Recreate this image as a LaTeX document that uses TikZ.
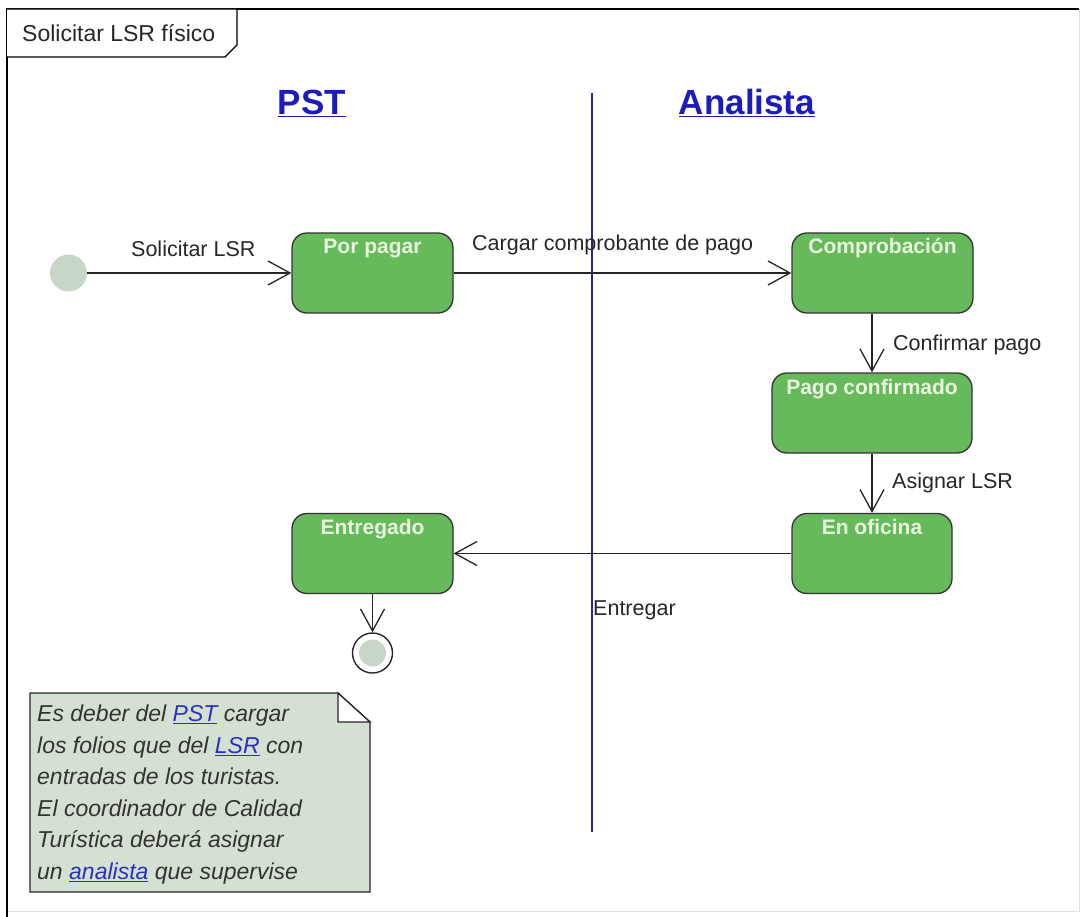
\documentclass[tikz,border=0pt]{standalone}
\usepackage{fontspec}
\setmainfont{Liberation Sans}
\usetikzlibrary{arrows.meta}
\definecolor{stfill}{RGB}{103,186,92}
\definecolor{sttext}{RGB}{232,246,222}
\definecolor{initfill}{RGB}{200,214,200}
\definecolor{notefill}{RGB}{212,224,210}
\definecolor{hdrblue}{RGB}{28,28,190}
\definecolor{linkblue}{RGB}{40,50,190}
\definecolor{lanecol}{RGB}{40,40,125}
\newcommand{\lnk}[1]{\textcolor{linkblue}{\underline{#1}}}
\tikzset{
  statebox/.style={draw=black!80, line width=1.3pt, fill=stfill, rounded corners=15pt,
    text=sttext, font=\bfseries\fontsize{21}{24}\selectfont,
    inner xsep=4pt, inner ysep=5pt, text height=16pt, text depth=54pt},
  flow/.style={draw=black!85, line width=1.4pt, -{Straight Barb[length=22pt,width=24pt,line width=1.3pt]}},
  lbl/.style={font=\fontsize{21.5}{24}\selectfont, text=black!85, inner sep=0pt},
  hdr/.style={font=\bfseries\fontsize{35}{40}\selectfont, text=hdrblue, inner sep=0pt},
}
\begin{document}
\begin{tikzpicture}[x=1pt,y=-1pt]
\useasboundingbox (0,0) rectangle (1081,917);
% frame
\draw[black!12, line width=1pt] (1079,9) -- (1079,911) -- (7,911);
\draw[black, line width=1.6pt] (1079,9) -- (7,9) -- (7,917);
% tab
\draw[black, line width=1.3pt, fill=white] (7,9) -- (237,9) -- (237,45) -- (225,57) -- (7,57);
\node[lbl, font=\fontsize{23}{26}\selectfont, anchor=west] (title) at (22,33) {Solicitar LSR físico};
% headers
\node[hdr] (pst) at (312,103) {\underline{PST}};
\node[hdr] (ana) at (747,103) {\underline{Analista}};
% lane divider
\coordinate (lt) at (592,93);
\coordinate (lb) at (592,832);
\draw[lanecol, line width=1.6pt] (lt) -- (lb);
% initial and final
\node[circle, fill=initfill, minimum size=37pt, inner sep=0pt] (init) at (68.5,273) {};
\node[circle, draw=black!85, line width=1.4pt, fill=white, minimum size=40pt, inner sep=0pt] (fin) at (372.5,653) {};
\node[circle, fill=initfill, minimum size=27pt, inner sep=0pt] (finin) at (fin) {};
% states
\node[statebox, minimum width=161pt] (pp) at (372.5,273) {Por pagar};
\node[statebox, minimum width=181pt] (comp) at (882.5,273) {Comprobación};
\node[statebox, minimum width=200pt] (pc) at (872,413) {Pago confirmado};
\node[statebox, minimum width=160pt] (ofi) at (872,553.5) {En oficina};
\node[statebox, minimum width=161pt] (ent) at (372.5,553.5) {Entregado};
% flows
\draw[flow] (init) -- (pp);
\draw[flow] (pp) -- (comp);
\draw[flow] (comp.south -| pc.north) -- (pc.north);
\draw[flow] (pc) -- (ofi);
\draw[flow] (ofi) -- (ent);
\draw[flow] (ent) -- (fin);
% labels
\node[lbl, anchor=west] (l1) at (131,249) {Solicitar LSR};
\node[lbl, anchor=west] (l2) at (472,245) {Cargar comprobante de pago};
\node[lbl, anchor=west] (l3) at (893,345) {Confirmar pago};
\node[lbl, anchor=west] (l4) at (892,483) {Asignar LSR};
\node[lbl, anchor=west] (l5) at (593,610) {Entregar};
% note
\draw[black!85, line width=1.3pt, fill=notefill] (30,693) -- (338,693) -- (370,722) -- (370,892) -- (30,892) -- cycle;
\draw[black!85, line width=1.3pt, fill=white] (338,693) -- (338,722) -- (370,722) -- cycle;
\node[anchor=north west, inner sep=0pt, align=left, text=black!80,
  font=\itshape\fontsize{23}{31.5}\selectfont] (note) at (37,705)
  {Es deber del \lnk{PST} cargar\\los folios que del \lnk{LSR} con\\entradas de los turistas.\\El coordinador de Calidad\\Turística deberá asignar\\un \lnk{analista} que supervise};
\end{tikzpicture}
\end{document}
